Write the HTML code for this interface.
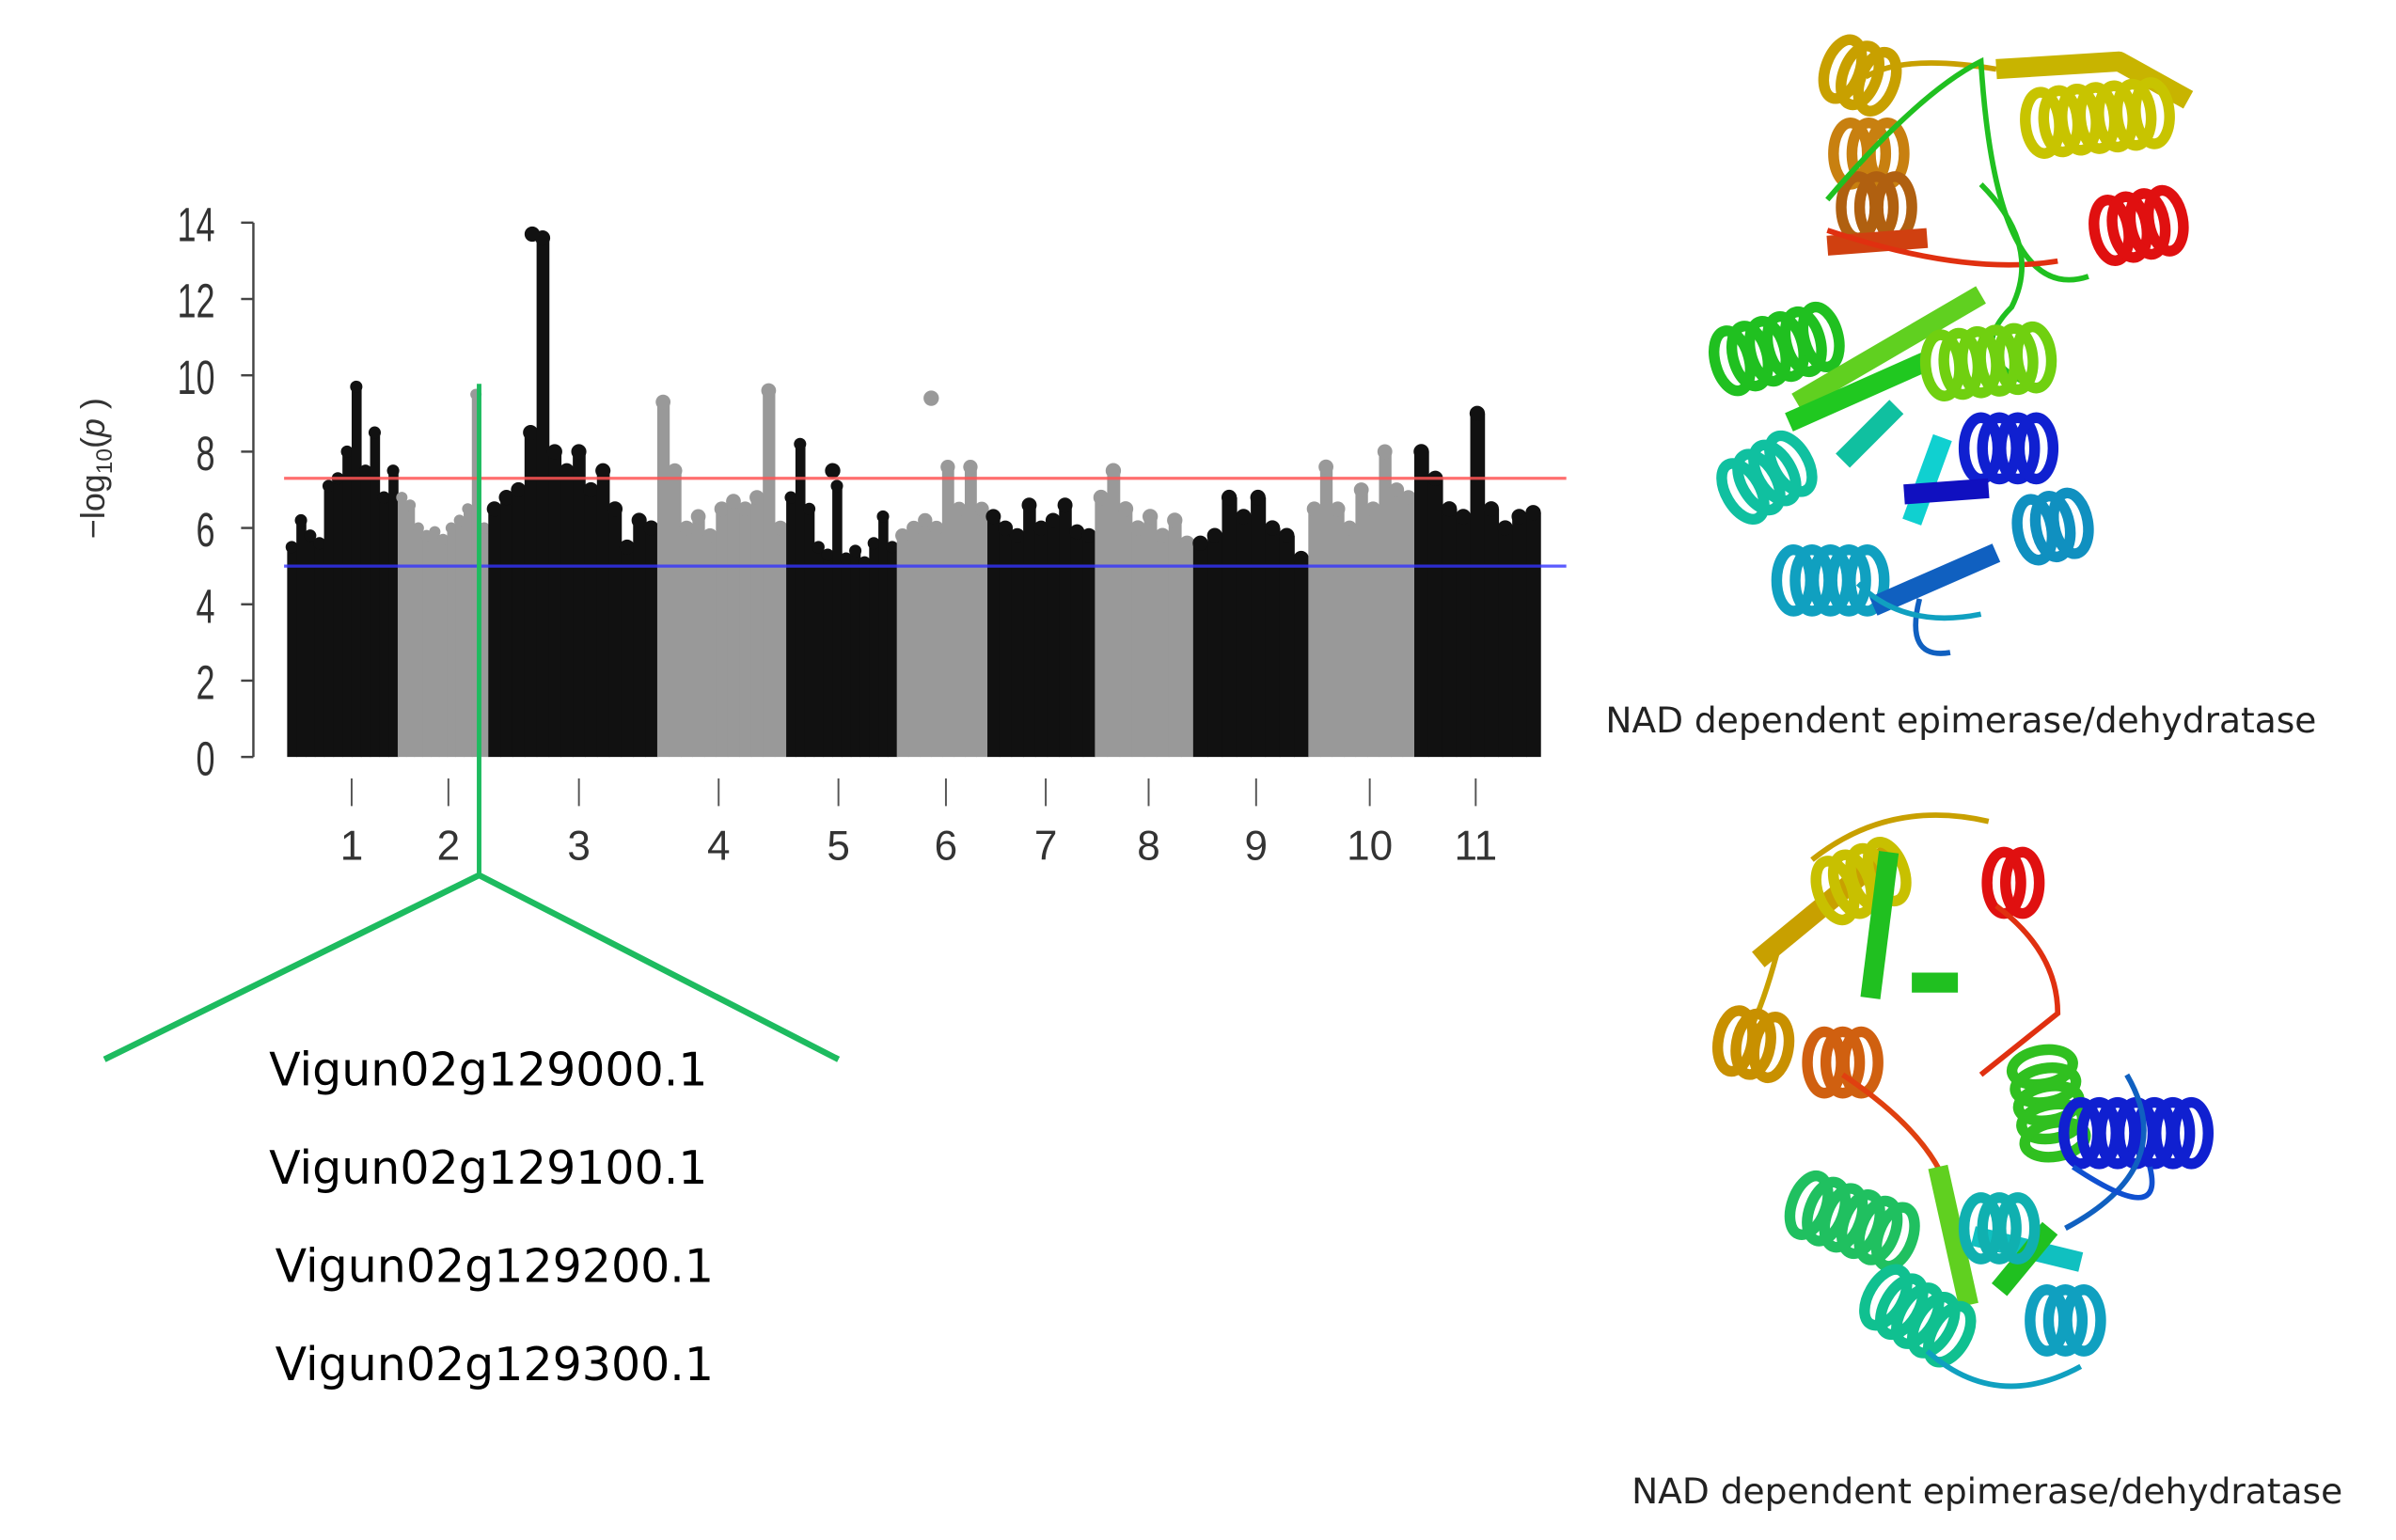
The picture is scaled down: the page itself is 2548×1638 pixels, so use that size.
<!DOCTYPE html>
<html><head><meta charset="utf-8"><style>
html,body{margin:0;padding:0;background:#fff;}
svg{display:block;}
</style></head><body>
<svg id="fig" width="2548" height="1638" viewBox="0 0 1560.3 1003" xmlns="http://www.w3.org/2000/svg">
<g id="chart"></g>
<g id="prot"></g>
<text x="1277" y="477" text-anchor="middle" font-family="'DejaVu Sans', sans-serif" font-size="23" fill="#222">NAD dependent epimerase/dehydratase</text>
<text x="1294" y="979" text-anchor="middle" font-family="'DejaVu Sans', sans-serif" font-size="23" fill="#222">NAD dependent epimerase/dehydratase</text>
<g font-family="'DejaVu Sans', sans-serif" font-size="30" fill="#000" text-anchor="middle">
<text x="318" y="707">Vigun02g129000.1</text>
<text x="318" y="771">Vigun02g129100.1</text>
<text x="322" y="835">Vigun02g129200.1</text>
<text x="322" y="899">Vigun02g129300.1</text>
</g>
</svg>
<script>
const chromLabels = ["1","2","3","4","5","6","7","8","9","10","11"];
const chromStart = [0,72,131,241,325,397,456,526,590,665,734];
const chromEnd = [72,131,241,325,397,456,526,590,665,734,816];
const labelPos = [42,105,190,281,359,429,494,561,631,705,774];
const c1 = [5.5,6.2,5.8,5.6,7.1,7.3,8.0,9.7,7.5,8.5,6.8,7.5];
const c2 = [6.8,6.6,6.0,5.8,5.9,5.7,6.0,6.2,6.5,9.5,6.0];
const c3 = [6.5,6.8,7.0,8.5,13.6,8.0,7.5,8.0,7.0,7.5,6.5,5.5,6.2,6.0];
const c4 = [9.3,7.5,6.0,6.3,5.8,6.5,6.7,6.5,6.8,9.6,6.0];
const c5 = [6.8,8.2,6.5,5.5,5.3,7.1,5.2,5.4,5.1,5.6,6.3,5.5];
const c6 = [5.8,6.0,6.2,6.0,7.6,6.5,7.6,6.5];
const c7 = [6.3,6.0,5.8,6.6,6.0,6.2,6.6,5.9,5.8];
const c8 = [6.8,7.5,6.5,6.0,6.3,5.8,6.2,5.6];
const c9 = [5.6,5.8,6.8,6.3,6.8,6.0,5.8,5.2];
const c10 = [6.5,7.6,6.5,6.0,7.0,6.5,8.0,7.0,6.8];
const c11 = [8.0,7.3,6.5,6.3,9.0,6.5,6.0,6.3,6.4];
const chromVals = [c1,c2,c3,c4,c5,c6,c7,c8,c9,c10,c11];
const outlierChrom = [5,4,2];
const outlierFrac = [0.38,0.42,0.26];
const outlierVal = [9.4,7.5,13.7];
const yTicks = [0,2,4,6,8,10,12,14];
const redLine = 7.3, blueLine = 5.0;

const NS="http://www.w3.org/2000/svg";
const X0=187, Y0=493, YS=348/14;
const xS=v=>X0+v;
const yS=v=>Y0-v*YS;
function mk(tag,attrs,parent){const e=document.createElementNS(NS,tag);for(const k in attrs)e.setAttribute(k,attrs[k]);parent.appendChild(e);return e;}
const ch=document.getElementById('chart');
let ax=mk('line',{x1:165,y1:yS(14),x2:165,y2:yS(0),stroke:'#444','stroke-width':1.5},ch);


yTicks.forEach(t=>{
 let l=mk('line',{x1:157,x2:165,y1:yS(t),y2:yS(t),stroke:'#444','stroke-width':1.5},ch);
 
 
 let tx=mk('text',{x:140,y:yS(t)+10,'text-anchor':'end','font-family':'Liberation Sans, sans-serif','font-size':26,fill:'#333',transform:`translate(140 ${yS(t)}) scale(0.85 1.2) translate(-140 ${-yS(t)})`},ch);
 tx.textContent=t;
 
 
});
let yt=mk('text',{x:0,y:0,'text-anchor':'middle','font-family':'Liberation Sans, sans-serif','font-size':22,fill:'#333',transform:'translate(68 305) rotate(-90)'},ch);
yt.innerHTML='−log<tspan font-size="15" dy="5">10</tspan><tspan dy="-5">(</tspan><tspan font-style="italic">p</tspan> )';


chromVals.forEach((vals,ci)=>{
 const g=mk('g',{fill:ci%2?'#999':'#111'},ch);
 
 
 const s=chromStart[ci],e=chromEnd[ci],w=(e-s)/vals.length;
 vals.forEach((v,i)=>{
  const x=xS(s+i*w);
  const r=mk('rect',{x:x,y:yS(v),width:w+0.5,height:yS(0)-yS(v)},g);
  
  
  const c=mk('circle',{cx:x+w/2,cy:yS(v),r:Math.min(w/2+1,5)},g);
  
  
 });
 const tk=mk('line',{x1:xS(labelPos[ci]),x2:xS(labelPos[ci]),y1:507,y2:525,stroke:'#555','stroke-width':1.2},ch);
 
 
 const lb=mk('text',{x:xS(labelPos[ci]),y:560,'text-anchor':'middle','font-family':'Liberation Sans, sans-serif','font-size':27,fill:'#333'},ch);
 lb.textContent=chromLabels[ci];
 
 
});
outlierChrom.forEach((ci,i)=>{
 const x=xS(chromStart[ci]+(chromEnd[ci]-chromStart[ci])*outlierFrac[i]);
 const c=mk('circle',{cx:x,cy:yS(outlierVal[i]),r:5,fill:ci%2?'#999':'#111'},ch);
 
 
});
let rl=mk('line',{x1:185,x2:1020,y1:yS(redLine),y2:yS(redLine),stroke:'#f55','stroke-width':2,opacity:0.85},ch);


let bl=mk('line',{x1:185,x2:1020,y1:yS(blueLine),y2:yS(blueLine),stroke:'#33f','stroke-width':2,opacity:0.8},ch);


let gl=mk('polyline',{points:'312,250 312,570',fill:'none',stroke:'#1dbb5f','stroke-width':3},ch);


let gz=mk('polyline',{points:'68,690 312,570 546,690',fill:'none',stroke:'#1dbb5f','stroke-width':4},ch);



const pr=document.getElementById('prot');
function helix(cx,cy,col,ang,n){
 const g=mk('g',{transform:`translate(${cx} ${cy}) rotate(${ang})`,fill:'none',stroke:col,'stroke-width':7},pr);
 
 
 for(let i=0;i<n;i++){mk('ellipse',{cx:i*12,cy:0,rx:11,ry:20},g);}
}
function strand(pts,col){
 const p=mk('polyline',{points:pts,fill:'none',stroke:col,'stroke-width':13,'stroke-linejoin':'round'},pr);
 
 
}
function loop(d,col){
 const p=mk('path',{d:d,fill:'none',stroke:col,'stroke-width':3.5},pr);
 
 
}
// top protein
loop('M1215 50 Q1240 35 1300 45','#c8a000');
strand('1300,45 1380,40 1425,65','#c8b400');
helix(1330,80,'#c8c400',-5,7);
helix(1200,45,'#c8a000',20,3);
helix(1205,100,'#c88010',0,3);
helix(1210,135,'#b06010',0,3);
strand('1190,160 1255,155','#d04010');
helix(1375,150,'#e01010',-10,4);
loop('M1190 130 Q1250 60 1290 40 Q1300 200 1360 180','#20c020');
loop('M1190 150 Q1280 180 1340 170','#e03010');
loop('M1290 120 Q1330 160 1310 200 Q1280 230 1320 250','#20c020');
helix(1128,235,'#20c020',-15,6);
strand('1170,262 1290,192','#60d020');
strand('1165,275 1255,235','#20c820');
helix(1265,238,'#70d010',-5,6);
helix(1135,320,'#10c0a0',-30,4);
strand('1200,300 1235,265','#10c0a0');
strand('1245,340 1265,285','#10d0d0');
helix(1290,292,'#1020d0',0,4);
strand('1240,322 1295,318','#1010c0');
helix(1168,378,'#10a0c0',0,5);
strand('1220,395 1300,360','#1060c0');
helix(1325,345,'#1090c0',-10,3);
loop('M1250 390 Q1240 430 1270 425','#1060c0');
loop('M1210 380 Q1240 410 1290 400','#10a0c0');
// bottom protein
strand('1145,625 1230,555','#c8a000');
loop('M1180 560 Q1230 520 1295 535','#c8a000');
helix(1195,580,'#c8c000',-20,4);
strand('1230,555 1218,650','#20c020');
strand('1245,640 1275,640','#20c020');
helix(1305,575,'#e01010',0,2);
loop('M1160 610 Q1150 650 1140 670','#c8a000');
loop('M1300 590 Q1340 620 1340 660 L1290 700','#e03010');
helix(1130,678,'#c89000',10,3);
helix(1188,692,'#d06010',0,3);
loop('M1200 700 Q1260 740 1270 780','#e04010');
helix(1330,695,'#30c020',80,5);
helix(1355,738,'#1020d0',0,7);
helix(1178,785,'#20c060',20,6);
strand('1262,760 1282,850','#60d020');
strand('1285,805 1355,822','#10c0c0');
strand('1302,840 1335,800','#20c020');
helix(1333,860,'#10a0c0',0,3);
helix(1228,845,'#10c090',30,5);
helix(1290,800,'#10b0b0',0,3);
loop('M1345 800 Q1420 760 1385 700','#1060c0');
loop('M1255 880 Q1300 920 1355 890','#10a0c0');
loop('M1350 760 Q1410 800 1400 760','#1050d0');
</script>
</body></html>
